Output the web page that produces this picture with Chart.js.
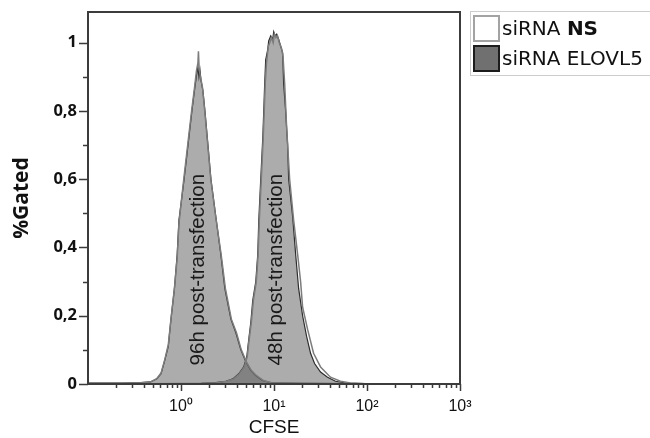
<!DOCTYPE html>
<html><head><meta charset="utf-8">
<script src="https://cdn.jsdelivr.net/npm/chart.js@4.4.1/dist/chart.umd.min.js"></script>
<style>
html,body{margin:0;padding:0;background:#fff;overflow:hidden;width:650px;height:438px;}
#wrap{position:relative;width:650px;height:438px;overflow:hidden;}
canvas{position:absolute;left:0;top:0;}
#legend{position:absolute;left:470px;top:11px;width:230px;height:65px;border:1.5px solid #cdcdcd;box-sizing:border-box;font-family:"DejaVu Sans",sans-serif;font-size:20px;color:#111;}
.sw{position:absolute;left:2px;width:27px;height:27px;box-sizing:border-box;}
.lt{position:absolute;left:31px;line-height:28px;white-space:nowrap;}
</style></head><body>
<div id="wrap"><canvas id="c" width="650" height="438"></canvas><div id="legend"></div></div>
<script>
// ---- data ----
const seriesNames = ['siRNA NS', 'siRNA ELOVL5'];
const peakLabels = ['96h post-transfection', '48h post-transfection'];
const xTickValues = [1, 10, 100, 1000];
const xTickLabels = ['10\u2070', '10\u00B9', '10\u00B2', '10\u00B3'];
const yTickValues = [0, 0.2, 0.4, 0.6, 0.8, 1];
const yTickLabels = ['0', '0,2', '0,4', '0,6', '0,8', '1'];

const ns96X = [0.1,0.23,0.37,0.47,0.55,0.61,0.67,0.73,0.78,0.85,0.91,0.95,1.07,1.18,1.30,1.40,1.47,1.52,1.54,1.57,1.62,1.70,1.80,1.94,2.09,2.36,2.70,3.00,3.48,3.95,4.45,5.05,5.70,6.45,7.7,9.4,19.5,60];
const ns96Y = [0.003,0.003,0.004,0.006,0.016,0.032,0.072,0.115,0.19,0.28,0.37,0.47,0.60,0.70,0.80,0.87,0.92,0.94,0.975,0.92,0.90,0.87,0.80,0.70,0.60,0.49,0.38,0.28,0.19,0.15,0.10,0.065,0.04,0.025,0.01,0.004,0.002,0.001];
const ns48X = [0.5,1.7,2.4,3.1,3.7,4.25,4.8,5.15,5.4,5.7,6.0,6.45,6.75,6.95,7.3,7.65,7.85,8.05,8.3,8.7,9.0,9.4,9.8,10.1,10.5,10.9,11.4,12.0,12.5,13.02,13.68,14.73,16.26,17.95,19.32,20.31,22.97,26.64,31.66,40.5,51.8,66.4,96.1,1000];
const ns48Y = [0.001,0.002,0.004,0.008,0.015,0.03,0.05,0.08,0.13,0.18,0.245,0.30,0.38,0.48,0.60,0.72,0.80,0.88,0.94,0.99,1.00,1.015,1.00,1.025,1.015,1.02,1.00,0.985,0.96,0.88,0.75,0.60,0.48,0.38,0.30,0.225,0.16,0.09,0.05,0.02,0.008,0.003,0.001,0.0005];
const el96X = [0.1,0.23,0.37,0.47,0.55,0.61,0.67,0.73,0.78,0.85,0.91,0.95,1.08,1.19,1.31,1.41,1.48,1.52,1.56,1.60,1.64,1.72,1.81,1.95,2.10,2.37,2.68,2.96,3.44,3.89,4.40,4.98,5.63,6.36,7.57,9.22,19.3,60];
const el96Y = [0.003,0.003,0.004,0.006,0.015,0.03,0.07,0.11,0.19,0.28,0.38,0.48,0.60,0.70,0.80,0.87,0.91,0.93,0.90,0.92,0.89,0.86,0.80,0.70,0.60,0.49,0.38,0.28,0.19,0.15,0.10,0.065,0.04,0.025,0.01,0.004,0.002,0.001];
const el48X = [0.5,1.64,2.37,3.04,3.61,4.18,4.73,5.10,5.35,5.63,5.91,6.37,6.69,6.86,7.20,7.57,7.76,7.94,8.14,8.56,8.77,9.22,9.68,9.93,10.30,10.69,11.22,11.80,12.40,12.70,13.34,14.02,14.38,15.87,17.09,18.40,20.31,22.39,24.73,27.30,31.66,37.63,45.83,58.6,96.1,1000];
const el48Y = [0.001,0.002,0.004,0.008,0.015,0.03,0.05,0.08,0.13,0.18,0.245,0.30,0.38,0.48,0.60,0.72,0.80,0.88,0.95,0.98,1.005,1.02,1.01,1.032,1.02,1.025,1.01,0.99,0.97,0.88,0.80,0.70,0.60,0.49,0.38,0.28,0.20,0.14,0.09,0.06,0.035,0.02,0.008,0.003,0.001,0.0005];

// ---- legend (HTML) ----
(function(){
  const lg = document.getElementById('legend');
  const sw = [{bg:'#ffffff', bd:'#a3a3a3'}, {bg:'#707070', bd:'#1c1c1c'}];
  seriesNames.forEach((name, i) => {
    const top = 3 + i * 30;
    const box = document.createElement('div');
    box.className = 'sw';
    box.style.top = top + 'px';
    box.style.background = sw[i].bg;
    box.style.border = '2px solid ' + sw[i].bd;
    lg.appendChild(box);
    const t = document.createElement('div');
    t.className = 'lt';
    t.style.top = (top - 1) + 'px';
    if (i === 0) {
      const parts = name.split(' ');
      t.innerHTML = parts[0] + ' <b>' + parts.slice(1).join(' ') + '</b>';
    } else {
      t.textContent = name;
    }
    lg.appendChild(t);
  });
})();

const pts = (X, Y) => X.map((x, i) => ({x: x, y: Y[i]}));

const frame = {
  id: 'frame',
  afterDatasetsDraw(chart) {
    const {ctx, scales: {x, y}} = chart;
    const anchors = [{x: 1.52, y: 0.335}, {x: 10.7, y: 0.335}];
    ctx.save();
    ctx.font = '20.5px "Liberation Sans", Arial, sans-serif';
    ctx.fillStyle = '#1a1a1a';
    ctx.textAlign = 'center';
    ctx.textBaseline = 'middle';
    peakLabels.forEach((txt, i) => {
      ctx.save();
      ctx.translate(x.getPixelForValue(anchors[i].x), y.getPixelForValue(anchors[i].y));
      ctx.rotate(-Math.PI / 2);
      ctx.fillText(txt, 0, 0);
      ctx.restore();
    });
    ctx.restore();
  },
  afterDraw(chart) {
    const {ctx, chartArea: a, scales: {x, y}} = chart;
    ctx.save();
    ctx.strokeStyle = '#3a3a3a';
    ctx.lineWidth = 1.5;
    x.ticks.forEach(t => {
      const px = Math.round(x.getPixelForValue(t.value)) + 0.5;
      if (px < a.left + 2) return;
      const len = t.major ? 7 : 4;
      ctx.beginPath(); ctx.moveTo(px, a.bottom); ctx.lineTo(px, a.bottom + len); ctx.stroke();
    });
    y.ticks.forEach(t => {
      const py = Math.round(y.getPixelForValue(t.value)) + 0.5;
      const len = t.major ? 9 : 5;
      ctx.beginPath(); ctx.moveTo(a.left, py); ctx.lineTo(a.left - len, py); ctx.stroke();
    });
    ctx.lineWidth = 2;
    ctx.strokeStyle = '#3c3c3c';
    ctx.strokeRect(a.left, a.top, a.right - a.left, a.bottom - a.top);
    ctx.restore();
  }
};

new Chart(document.getElementById('c'), {
  type: 'line',
  data: {
    datasets: [
      {label: seriesNames[1] + ' 96h', data: pts(el96X, el96Y), fill: 'origin', backgroundColor: 'rgba(90,90,90,0.5)', borderColor: '#2e2e2e', borderWidth: 1.2, order: 4},
      {label: seriesNames[1] + ' 48h', data: pts(el48X, el48Y), fill: 'origin', backgroundColor: 'rgba(90,90,90,0.5)', borderColor: '#2e2e2e', borderWidth: 1.2, order: 3},
      {label: seriesNames[0] + ' 96h', data: pts(ns96X, ns96Y), fill: false, borderColor: '#7c7c7c', borderWidth: 1.5, order: 2},
      {label: seriesNames[0] + ' 48h', data: pts(ns48X, ns48Y), fill: false, borderColor: '#7c7c7c', borderWidth: 1.5, order: 1}
    ]
  },
  options: {
    responsive: false,
    animation: false,
    devicePixelRatio: 1,
    layout: {padding: {left: 0, right: 190, top: 12, bottom: 0}},
    elements: {point: {radius: 0, hoverRadius: 0}, line: {tension: 0}},
    plugins: {legend: {display: false}, tooltip: {enabled: false}},
    scales: {
      x: {
        type: 'logarithmic', min: 0.1, max: 1000,
        grid: {display: false, drawTicks: false},
        border: {display: false},
        afterBuildTicks(s) {
          const t = [];
          for (let d = -1; d <= 2; d++) {
            for (let k = 1; k <= 9; k++) {
              const v = k * Math.pow(10, d);
              if (v <= 0.1) continue;
              t.push({value: v, major: k === 1});
            }
          }
          t.push({value: 1000, major: true});
          s.ticks = t;
        },
        afterFit(s) { s.height = 54; s.paddingLeft = 0; s.paddingRight = 0; },
        ticks: {
          autoSkip: false, maxRotation: 0, padding: 13,
          color: '#111',
          font: {family: '"Liberation Sans", Arial, sans-serif', size: 16},
          callback(v) { const i = xTickValues.findIndex(q => Math.abs(q - v) < 1e-9 * q); return i >= 0 ? xTickLabels[i] : ''; }
        },
        title: {display: true, text: 'CFSE', color: '#111', font: {family: '"Liberation Sans", Arial, sans-serif', size: 19, lineHeight: 1}, padding: {top: 0, bottom: 1}}
      },
      y: {
        type: 'linear', min: 0, max: 1.09,
        grid: {display: false, drawTicks: false},
        border: {display: false},
        afterBuildTicks(s) {
          const t = [];
          for (let i = 0; i <= 10; i++) t.push({value: i / 10, major: i % 2 === 0});
          s.ticks = t;
        },
        afterFit(s) { s.width = 88; s.paddingTop = 0; s.paddingBottom = 0; },
        ticks: {
          autoSkip: false, padding: 11, color: '#111',
          font: {family: '"Open Sans", "DejaVu Sans", sans-serif', size: 16.5, weight: 'bold'},
          callback(v) { const i = yTickValues.findIndex(q => Math.abs(q - v) < 1e-6); return i >= 0 ? yTickLabels[i] : ''; }
        },
        title: {display: true, text: '%Gated', color: '#111', font: {family: '"Open Sans", "DejaVu Sans", sans-serif', size: 21, weight: 'bold', lineHeight: 1}, padding: {top: 12, bottom: 0}}
      }
    }
  },
  plugins: [frame]
});
</script>
</body></html>
